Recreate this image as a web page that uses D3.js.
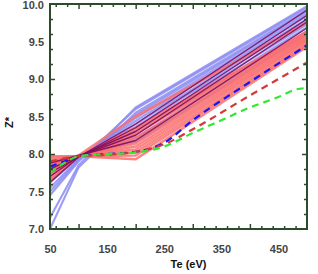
<!DOCTYPE html>
<html lang="en">
<head>
<meta charset="UTF-8">
<title>Z* vs Te</title>
<script src="https://d3js.org/d3.v7.min.js"></script>
<style>
    body { margin: 0; background: #fff; }
    svg { display: block; }
    .tick-label { font-family: 'Liberation Sans', sans-serif; font-weight: bold; font-size: 11px; fill: #454545; }
    .axis-title { font-family: 'Liberation Sans', sans-serif; font-weight: bold; font-size: 11px; fill: #111; }
</style>
</head>
<body>
<div id="chart"></div>
<script>
// Te grid of the solid (model) lines
const teSolid = [50, 100, 200, 500];

// light blue family
const blueLines = [
    [7.00, 7.82, 8.55, 9.92],
    [7.15, 7.85, 8.62, 9.97],
    [7.45, 7.90, 8.60, 9.95],
    [7.50, 7.92, 8.52, 9.90],
    [7.55, 7.93, 8.48, 9.87],
    [7.62, 7.95, 8.44, 9.84],
    [7.66, 7.95, 8.40, 9.80],
    [7.72, 7.96, 8.36, 9.77],
    [7.78, 7.97, 8.31, 9.73],
    [7.83, 7.97, 8.26, 9.69],
    [7.87, 7.98, 8.21, 9.64],
    [7.90, 7.98, 8.16, 9.60]
];

// salmon family
const redLines = [
    [7.97, 7.97, 7.93, 9.43],
    [7.95, 7.97, 7.98, 9.45],
    [7.92, 7.97, 8.02, 9.47],
    [7.90, 7.97, 8.06, 9.50],
    [7.87, 7.97, 8.10, 9.52],
    [7.84, 7.97, 8.14, 9.54],
    [7.80, 7.97, 8.18, 9.56],
    [7.76, 7.97, 8.22, 9.58],
    [7.72, 7.97, 8.27, 9.60],
    [7.68, 7.97, 8.31, 9.62],
    [7.65, 7.97, 8.35, 9.63],
    [7.85, 7.98, 8.50, 9.75]
];

// dark purple family
const purpleLines = [
    [7.62, 7.96, 8.40, 9.92],
    [7.75, 7.96, 8.35, 9.85],
    [7.70, 7.97, 8.30, 9.80],
    [7.80, 7.97, 8.25, 9.76],
    [7.88, 7.98, 8.18, 9.68]
];

// dashed reference curves
const teDashBlue = [50, 75, 100, 150, 200, 250, 300, 400, 500];
const zDashBlue  = [7.83, 7.90, 7.97, 8.00, 8.03, 8.15, 8.45, 8.96, 9.45];
const teDashRed  = [50, 100, 150, 200, 250, 300, 400, 500];
const zDashRed   = [7.90, 7.97, 7.99, 8.03, 8.13, 8.33, 8.78, 9.22];
const teDashGreen = [50, 75, 100, 150, 200, 250, 300, 350, 400, 450, 480, 500];
const zDashGreen  = [7.75, 7.88, 7.97, 8.00, 8.02, 8.10, 8.28, 8.45, 8.62, 8.76, 8.86, 8.88];

// axis ticks / labels
const xLabels = [50, 150, 250, 350, 450];
const xMinorTicks = [60, 80, 120, 140, 160, 180, 220, 240, 260, 280, 320, 340, 360, 380, 420, 440, 460, 480];
const xMajorTicks = [100, 200, 300, 400];
const yLabels = [7.0, 7.5, 8.0, 8.5, 9.0, 9.5, 10.0];
const yMinorTicks = [7.2, 7.4, 7.6, 7.8, 8.2, 8.4, 8.6, 8.8, 9.2, 9.4, 9.6, 9.8];
const yMajorTicks = [8, 9];

const W = 318, H = 274;
const plotL = 50, plotR = 307, plotT = 4, plotB = 229;
const frameColor = '#2c4a2c';

const x = d3.scaleLinear().domain([50, 500]).range([plotL, plotR]);
const y = d3.scaleLinear().domain([7, 10]).range([plotB, plotT]);

const svg = d3.select('#chart').append('svg')
    .attr('width', W)
    .attr('height', H);

svg.append('clipPath').attr('id', 'clip')
    .append('rect')
    .attr('x', plotL).attr('y', plotT)
    .attr('width', plotR - plotL).attr('height', plotB - plotT);

const layer = svg.append('g').attr('clip-path', 'url(#clip)');

const solidLine = d3.line()
    .x((d, i) => x(teSolid[i]))
    .y(d => y(d));

function drawFamily(rows, color, width, opacity) {
    layer.append('g').selectAll('path')
        .data(rows)
        .join('path')
        .attr('d', solidLine)
        .attr('fill', 'none')
        .attr('stroke', color)
        .attr('stroke-width', width)
        .attr('stroke-opacity', opacity)
        .attr('stroke-linejoin', 'round');
}

drawFamily(blueLines, '#8c8cf2', 2.1, 0.85);
drawFamily(redLines, '#fa6e6e', 2.6, 0.85);
drawFamily(purpleLines, '#7e0c5e', 1.4, 0.9);

function drawDashed(te, z, color) {
    const pts = te.map((t, i) => [t, z[i]]);
    layer.append('path')
        .datum(pts)
        .attr('d', d3.line().x(d => x(d[0])).y(d => y(d[1])).curve(d3.curveMonotoneX))
        .attr('fill', 'none')
        .attr('stroke', color)
        .attr('stroke-width', 2.2)
        .attr('stroke-dasharray', '7,5');
}

drawDashed(teDashBlue, zDashBlue, '#1515f5');
drawDashed(teDashRed, zDashRed, '#d23a3a');
drawDashed(teDashGreen, zDashGreen, '#2fe82f');

// frame ticks (inward, on all four sides)
function styleTicks(g) {
    g.select('.domain').remove();
    g.selectAll('line').attr('stroke', frameColor).attr('stroke-width', 1.5);
    g.selectAll('text').remove();
}

[[d3.axisBottom, plotB], [d3.axisTop, plotT]].forEach(([axisFn, pos]) => {
    svg.append('g').attr('transform', `translate(0,${pos})`)
        .call(axisFn(x).tickValues(xMinorTicks).tickSize(-3)).call(styleTicks);
    svg.append('g').attr('transform', `translate(0,${pos})`)
        .call(axisFn(x).tickValues(xMajorTicks).tickSize(-5)).call(styleTicks);
});

[[d3.axisLeft, plotL], [d3.axisRight, plotR]].forEach(([axisFn, pos]) => {
    svg.append('g').attr('transform', `translate(${pos},0)`)
        .call(axisFn(y).tickValues(yMinorTicks).tickSize(-3)).call(styleTicks);
    svg.append('g').attr('transform', `translate(${pos},0)`)
        .call(axisFn(y).tickValues(yMajorTicks).tickSize(-5)).call(styleTicks);
});

svg.append('rect')
    .attr('x', plotL).attr('y', plotT)
    .attr('width', plotR - plotL).attr('height', plotB - plotT)
    .attr('fill', 'none')
    .attr('stroke', frameColor)
    .attr('stroke-width', 2);

// tick labels
const xLab = svg.append('g')
    .attr('transform', `translate(0,${plotB})`)
    .call(d3.axisBottom(x).tickValues(xLabels).tickSize(0).tickPadding(16));
xLab.select('.domain').remove();
xLab.selectAll('text').attr('class', 'tick-label').attr('fill', null).attr('font-size', null).attr('font-family', null);

const yLab = svg.append('g')
    .attr('transform', `translate(${plotL},0)`)
    .call(d3.axisLeft(y).tickValues(yLabels).tickSize(0).tickPadding(6).tickFormat(d3.format('.1f')));
yLab.select('.domain').remove();
yLab.selectAll('text').attr('class', 'tick-label').attr('fill', null).attr('font-size', null).attr('font-family', null)
    .attr('dy', d => d === 10 ? '0.45em' : '0.32em');

// axis titles
svg.append('text')
    .attr('class', 'axis-title')
    .attr('x', (plotL + plotR) / 2 + 10)
    .attr('y', 268)
    .attr('text-anchor', 'middle')
    .text('Te (eV)');

svg.append('text')
    .attr('class', 'axis-title')
    .attr('transform', `translate(13,${(plotT + plotB) / 2 + 6}) rotate(-90)`)
    .attr('text-anchor', 'middle')
    .text('Z*');
</script>
</body>
</html>
